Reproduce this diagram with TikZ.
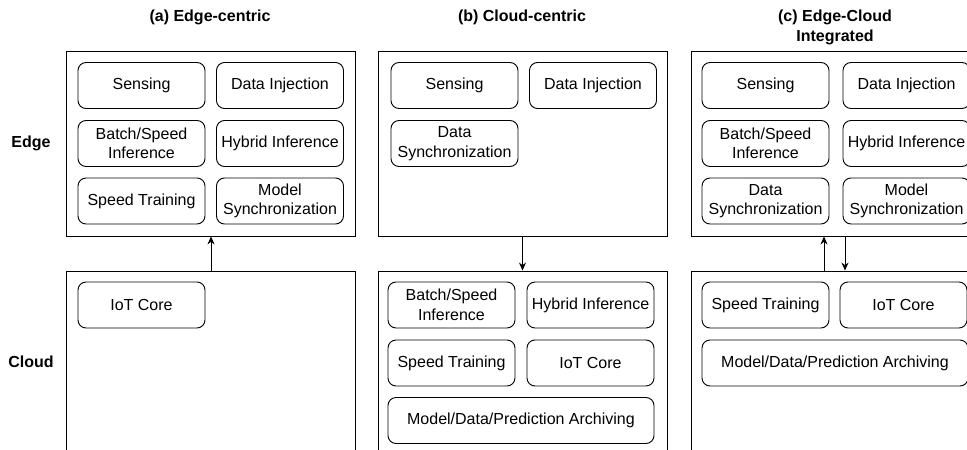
\documentclass[tikz,border=0pt]{standalone}
\usepackage{fontspec}
\setmainfont{Liberation Sans}
\usetikzlibrary{arrows.meta}

\begin{document}
\begin{tikzpicture}[x=1pt,y=-1pt,line width=0.9pt,
    task/.style={draw,rounded corners=8pt,minimum width=127pt,minimum height=46pt,
      inner sep=1pt,align=center,font=\fontsize{16}{19.5}\selectfont},
    layer/.style={draw,minimum width=289pt,inner sep=0pt},
    heading/.style={font=\fontsize{16}{20}\selectfont\bfseries,align=center},
    link/.style={-{Stealth[length=8pt,width=7pt]}}]
      \clip (0,0) rectangle (967,450);
      % column headings and row labels
      \node[heading] (headA) at (210,17) {(a) Edge-centric};
      \node[heading] (headB) at (522,17) {(b) Cloud-centric};
      \node[heading] (headC) at (835,27) {(c) Edge-Cloud\\Integrated};
      \node[heading] (edgeLbl) at (31,143) {Edge};
      \node[heading] (cloudLbl) at (31,362) {Cloud};
      % (a) edge-centric
      \node[layer,minimum height=185pt] (edgeA) at (211,143.5) {};
      \node[layer,minimum height=210pt] (cloudA) at (211,376) {};
      \node[task] (sensA) at (141.5,85.5) {Sensing};
      \node[task] (injA) at (280,85.5) {Data Injection};
      \node[task] (infA) at (141.5,143.5) {Batch/Speed\\Inference};
      \node[task] (hybA) at (280,143.5) {Hybrid Inference};
      \node[task] (trainA) at (141.5,201) {Speed Training};
      \node[task] (msyncA) at (280,201) {Model\\Synchronization};
      \node[task] (iotA) at (141.5,305) {IoT Core};
      \draw[link] (cloudA.north) -- (edgeA.south);
      % (b) cloud-centric
      \node[layer,minimum height=185pt] (edgeB) at (522.5,143.5) {};
      \node[layer,minimum height=210pt] (cloudB) at (522.5,376) {};
      \node[task] (sensB) at (454.5,85.5) {Sensing};
      \node[task] (injB) at (593,85.5) {Data Injection};
      \node[task] (dsyncB) at (454.5,143.5) {Data\\Synchronization};
      \node[task] (infB) at (451.5,305) {Batch/Speed\\Inference};
      \node[task] (hybB) at (590.5,305) {Hybrid Inference};
      \node[task] (trainB) at (451.5,363) {Speed Training};
      \node[task] (iotB) at (590.5,363) {IoT Core};
      \node[task,minimum width=266pt] (archB) at (521,420.5) {Model/Data/Prediction Archiving};
      \draw[link] (edgeB.south) -- (cloudB.north);
      % (c) edge-cloud integrated
      \node[layer,minimum height=185pt] (edgeC) at (835.5,143.5) {};
      \node[layer,minimum height=210pt] (cloudC) at (835.5,376) {};
      \node[task] (sensC) at (765.5,85.5) {Sensing};
      \node[task] (injC) at (906.5,85.5) {Data Injection};
      \node[task] (infC) at (765.5,143.5) {Batch/Speed\\Inference};
      \node[task] (hybC) at (906.5,143.5) {Hybrid Inference};
      \node[task] (dsyncC) at (765.5,201) {Data\\Synchronization};
      \node[task] (msyncC) at (906.5,201) {Model\\Synchronization};
      \node[task] (trainC) at (765.5,305) {Speed Training};
      \node[task] (iotC) at (903.5,305) {IoT Core};
      \node[task,minimum width=266pt] (archC) at (835,363) {Model/Data/Prediction Archiving};
      \draw[link] ([xshift=-11.5pt]cloudC.north) -- ([xshift=-11.5pt]edgeC.south);
      \draw[link] ([xshift=9.5pt]edgeC.south) -- ([xshift=9.5pt]cloudC.north);
\end{tikzpicture}
\end{document}
